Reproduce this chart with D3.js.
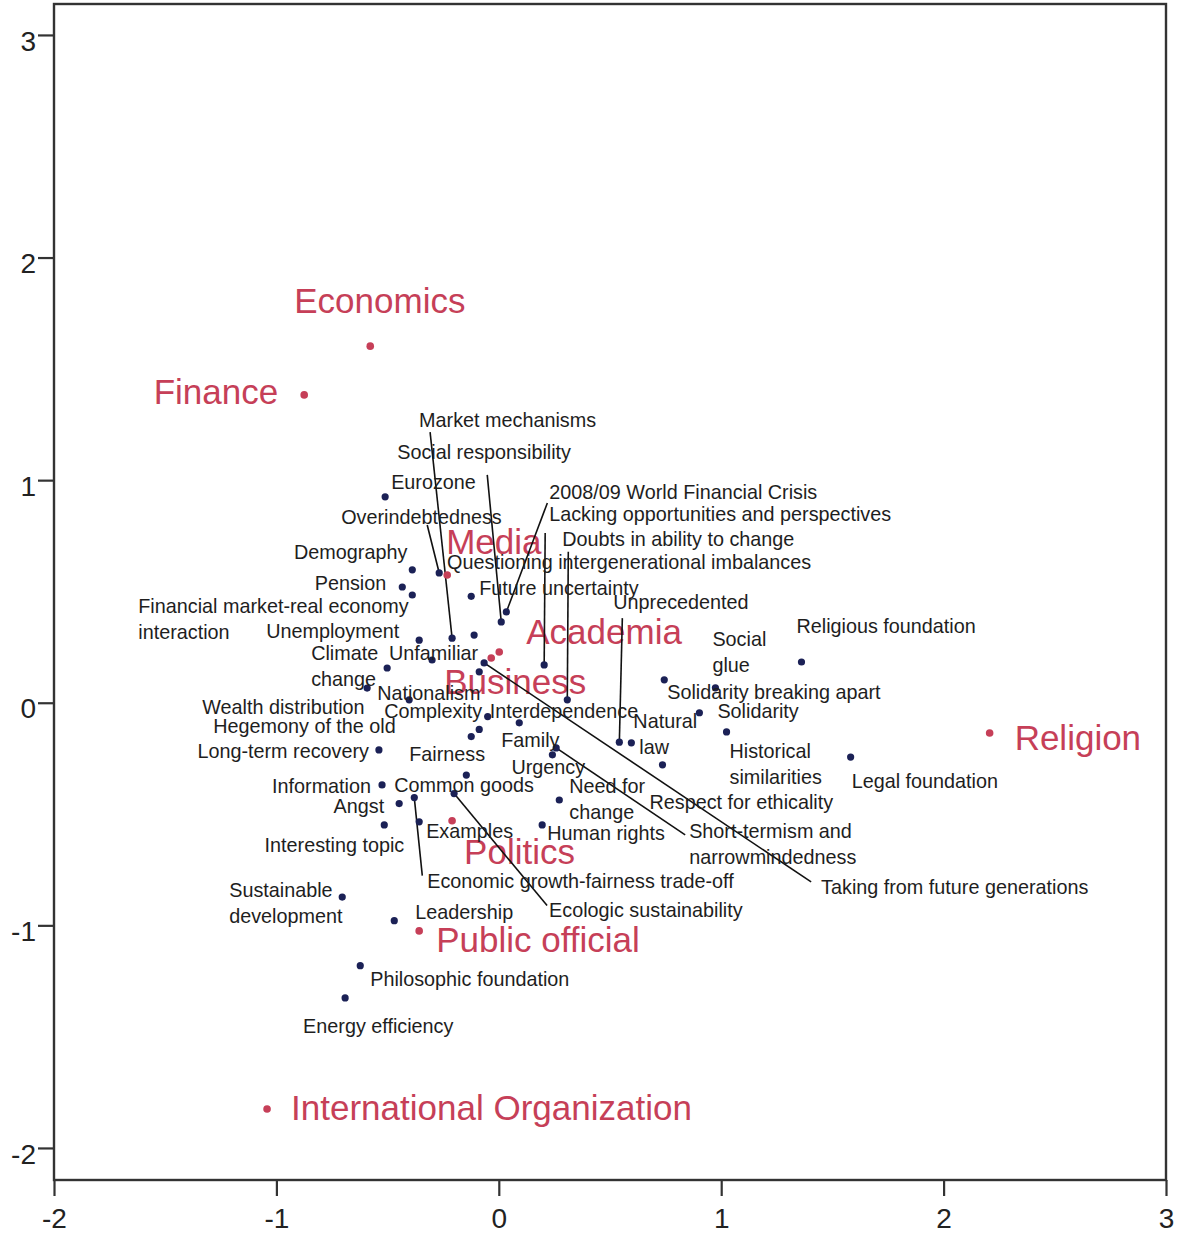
<!DOCTYPE html>
<html>
<head>
<meta charset="utf-8">
<script src="https://cdn.jsdelivr.net/npm/d3@7"></script>
<style>
  html, body { margin: 0; padding: 0; background: #fff; }
  svg { display: block; }
</style>
</head>
<body>
<svg id="chart" width="1177" height="1236"></svg>
<script>
// ---------------- DATA ----------------
const xTicks = [-2, -1, 0, 1, 2, 3];
const xTickLabels = ["-2", "-1", "0", "1", "2", "3"];
const yTicks = [-2, -1, 0, 1, 2, 3];
const yTickLabels = ["-2", "-1", "0", "1", "2", "3"];

// row points (red)
const rowNames = ["Economics", "Finance", "Media", "Academia", "Business", "Religion", "Politics", "Public official", "International Organization"];
const rowX = [-0.578, -0.875, -0.232, 0.002, -0.034, 2.207, -0.210, -0.358, -1.042];
const rowY = [1.602, 1.383, 0.574, 0.228, 0.201, -0.136, -0.530, -1.025, -1.825];

// column points (navy)
const colNames = [
  "Eurozone", "Overindebtedness", "Demography", "Pension", "Financial market-real economy interaction",
  "Future uncertainty", "2008/09 World Financial Crisis", "Social responsibility", "Unemployment", "Market mechanisms",
  "Questioning intergenerational imbalances", "Unfamiliar", "Climate change", "Taking from future generations", "Hegemony of the old",
  "Lacking opportunities and perspectives", "Doubts in ability to change", "Nationalism", "Wealth distribution", "Interdependence",
  "Complexity", "Fairness", "Family", "Long-term recovery", "Information",
  "Angst", "Common goods", "Economic growth-fairness trade-off", "Ecologic sustainability", "Examples",
  "Interesting topic", "Urgency", "Short-termism and narrowmindedness", "Need for change", "Human rights",
  "Unprecedented", "Natural law", "Respect for ethicality", "Solidarity breaking apart", "Social glue",
  "Solidarity", "Historical similarities", "Religious foundation", "Legal foundation", "Sustainable development",
  "Leadership", "Philosophic foundation", "Energy efficiency"
];
const colX = [
  -0.511, -0.268, -0.389, -0.434, -0.389,
  -0.124, 0.034, 0.011, -0.358, -0.210,
  -0.111, -0.300, -0.502, -0.066, -0.088,
  0.204, 0.308, -0.592, -0.403, -0.050,
  -0.088, -0.124, 0.092, -0.539, -0.525,
  -0.448, -0.146, -0.380, -0.201, -0.358,
  -0.515, 0.241, 0.258, 0.272, 0.195,
  0.542, 0.596, 0.736, 0.744, 0.974,
  0.902, 1.024, 1.361, 1.582, -0.704,
  -0.470, -0.623, -0.691
];
const colY = [
  0.925, 0.583, 0.597, 0.520, 0.484,
  0.478, 0.408, 0.363, 0.281, 0.290,
  0.304, 0.192, 0.156, 0.179, 0.139,
  0.170, 0.013, 0.066, 0.013, -0.062,
  -0.120, -0.152, -0.090, -0.212, -0.369,
  -0.453, -0.325, -0.426, -0.408, -0.535,
  -0.549, -0.234, -0.203, -0.437, -0.549,
  -0.177, -0.180, -0.279, 0.103, 0.067,
  -0.045, -0.131, 0.183, -0.244, -0.873,
  -0.979, -1.181, -1.326
];

// ---------------- LAYOUT (label placement, pixels relative to point) ----------------
const rowLabelLayout = {
  "Economics": {dx: -76, dy: -45},
  "Finance": {dx: -26, dy: -3, anchor: "end"},
  "Media": {dx: -1, dy: -33},
  "Academia": {dx: 27, dy: -20},
  "Business": {dx: -47, dy: 24},
  "Religion": {dx: 25, dy: 5},
  "Politics": {dx: 12, dy: 31},
  "Public official": {dx: 17, dy: 9},
  "International Organization": {dx: 24, dy: -1}
};
const colLabelLayout = {
  "Eurozone": {dx: 6, dy: -14},
  "Overindebtedness": {dx: -98, dy: -55, leader: [-12, -48]},
  "Demography": {dx: -5, dy: -17, anchor: "end"},
  "Pension": {dx: -16, dy: -3, anchor: "end"},
  "Financial market-real economy interaction": {dx: -274, dy: 12, lines: ["Financial market-real economy", "interaction"]},
  "Future uncertainty": {dx: 8, dy: -7},
  "2008/09 World Financial Crisis": {dx: 43, dy: -119, leader: [41, -109]},
  "Social responsibility": {dx: -104, dy: -169, leader: [-14, -147]},
  "Unemployment": {dx: -20, dy: -8, anchor: "end"},
  "Market mechanisms": {dx: -33, dy: -217, leader: [-22, -206]},
  "Questioning intergenerational imbalances": {dx: -27, dy: -72},
  "Unfamiliar": {dx: -43, dy: -6},
  "Climate change": {dx: -76, dy: -14, lines: ["Climate", "change"]},
  "Taking from future generations": {dx: 337, dy: 225, leader: [327, 219]},
  "Hegemony of the old": {dx: -266, dy: 55},
  "Lacking opportunities and perspectives": {dx: 5, dy: -150, leader: [1, -132]},
  "Doubts in ability to change": {dx: -5, dy: -160, leader: [1, -148]},
  "Nationalism": {dx: 10, dy: 6},
  "Wealth distribution": {dx: -207, dy: 8},
  "Interdependence": {dx: 2, dy: -5},
  "Complexity": {dx: -95, dy: -17},
  "Fairness": {dx: -62, dy: 18},
  "Family": {dx: -18, dy: 18},
  "Long-term recovery": {dx: -10, dy: 2, anchor: "end"},
  "Information": {dx: -11, dy: 2, anchor: "end"},
  "Angst": {dx: -15, dy: 3, anchor: "end"},
  "Common goods": {dx: -72, dy: 11},
  "Economic growth-fairness trade-off": {dx: 13, dy: 84, leader: [8, 78]},
  "Ecologic sustainability": {dx: 95, dy: 117, leader: [93, 112]},
  "Examples": {dx: 7, dy: 10},
  "Interesting topic": {dx: 20, dy: 21, anchor: "end"},
  "Urgency": {dx: -41, dy: 13},
  "Short-termism and narrowmindedness": {dx: 133, dy: 84, leader: [129, 87], lines: ["Short-termism and", "narrowmindedness"]},
  "Need for change": {dx: 10, dy: -13, lines: ["Need for", "change"]},
  "Human rights": {dx: 5, dy: 9},
  "Unprecedented": {dx: -6, dy: -139, leader: [3, -124]},
  "Natural law": {dx: 2, dy: -21, lines: ["Natural", "law"], indents: [0, 6]},
  "Respect for ethicality": {dx: -13, dy: 38},
  "Solidarity breaking apart": {dx: 3, dy: 13},
  "Social glue": {dx: -3, dy: -48, lines: ["Social", "glue"]},
  "Solidarity": {dx: 18, dy: -1},
  "Historical similarities": {dx: 3, dy: 20, lines: ["Historical", "similarities"]},
  "Religious foundation": {dx: -5, dy: -35},
  "Legal foundation": {dx: 1, dy: 25},
  "Sustainable development": {dx: -113, dy: -6, lines: ["Sustainable", "development"]},
  "Leadership": {dx: 21, dy: -8},
  "Philosophic foundation": {dx: 10, dy: 14},
  "Energy efficiency": {dx: -42, dy: 29}
};

// ---------------- STYLE ----------------
const W = 1177, H = 1236;
const plot = {left: 54, right: 1166, top: 4, bottom: 1180};
const red = "#c63f58";
const navy = "#1b2156";
const textCol = "#1e1e1e";
const font = "'Liberation Sans', Arial, sans-serif";

const svg = d3.select("#chart");
svg.append("rect").attr("width", W).attr("height", H).attr("fill", "#fff");

const x = d3.scaleLinear().domain([-2, 3]).range([plot.left, plot.right]);
const y = d3.scaleLinear().domain([-2.144, 3.139]).range([plot.bottom, plot.top]);

// axes
const xAxis = d3.axisBottom(x).tickValues(xTicks)
  .tickFormat((d, i) => xTickLabels[i]).tickSize(16).tickPadding(12).tickSizeOuter(0);
const yAxis = d3.axisLeft(y).tickValues(yTicks)
  .tickFormat((d, i) => yTickLabels[i]).tickSize(16).tickPadding(2).tickSizeOuter(0);

const gx = svg.append("g").attr("transform", `translate(0,${plot.bottom})`).call(xAxis);
const gy = svg.append("g").attr("transform", `translate(${plot.left},0)`).call(yAxis);
[gx, gy].forEach(g => {
  g.select(".domain").remove();
  g.selectAll(".tick line").attr("stroke", "#333").attr("stroke-width", 2.2);
  g.selectAll(".tick text").attr("font-family", font).attr("font-size", 28).attr("fill", "#222");
});
gy.selectAll(".tick text").attr("dy", "0.54em");

// frame
svg.append("rect")
  .attr("x", plot.left).attr("y", plot.top)
  .attr("width", plot.right - plot.left).attr("height", plot.bottom - plot.top)
  .attr("fill", "none").attr("stroke", "#333").attr("stroke-width", 2.4);

const rows = rowNames.map((n, i) => ({name: n, x: rowX[i], y: rowY[i], lay: rowLabelLayout[n]}));
const cols = colNames.map((n, i) => ({name: n, x: colX[i], y: colY[i], lay: colLabelLayout[n]}));

// red labels (behind)
svg.append("g").selectAll("text").data(rows).join("text")
  .attr("x", d => x(d.x) + d.lay.dx)
  .attr("y", d => y(d.y) + d.lay.dy + 12)
  .attr("text-anchor", d => d.lay.anchor || "start")
  .attr("font-family", font).attr("font-size", 35)
  .attr("fill", red)
  .text(d => d.name);

// leader lines
svg.append("g").selectAll("line").data(cols.filter(d => d.lay.leader)).join("line")
  .attr("x1", d => x(d.x)).attr("y1", d => y(d.y))
  .attr("x2", d => x(d.x) + d.lay.leader[0]).attr("y2", d => y(d.y) + d.lay.leader[1])
  .attr("stroke", "#111").attr("stroke-width", 1.6);

// navy points
svg.append("g").selectAll("circle").data(cols).join("circle")
  .attr("cx", d => x(d.x)).attr("cy", d => y(d.y)).attr("r", 3.6)
  .attr("fill", navy);

// red points
svg.append("g").selectAll("circle").data(rows).join("circle")
  .attr("cx", d => x(d.x)).attr("cy", d => y(d.y)).attr("r", 3.8)
  .attr("fill", red);

// black labels
const lab = svg.append("g").selectAll("text").data(cols).join("text")
  .attr("text-anchor", d => d.lay.anchor || "start")
  .attr("font-family", font).attr("font-size", 19.8)
  .attr("fill", textCol);
lab.each(function(d) {
  const t = d3.select(this);
  const lines = d.lay.lines || [d.name];
  const x0 = x(d.x) + d.lay.dx;
  const y0 = y(d.y) + d.lay.dy + 6;
  lines.forEach((ln, k) => {
    t.append("tspan")
      .attr("x", x0 + (d.lay.indents ? d.lay.indents[k] : 0))
      .attr("y", y0 + k * 26)
      .text(ln);
  });
});
</script>
</body>
</html>
